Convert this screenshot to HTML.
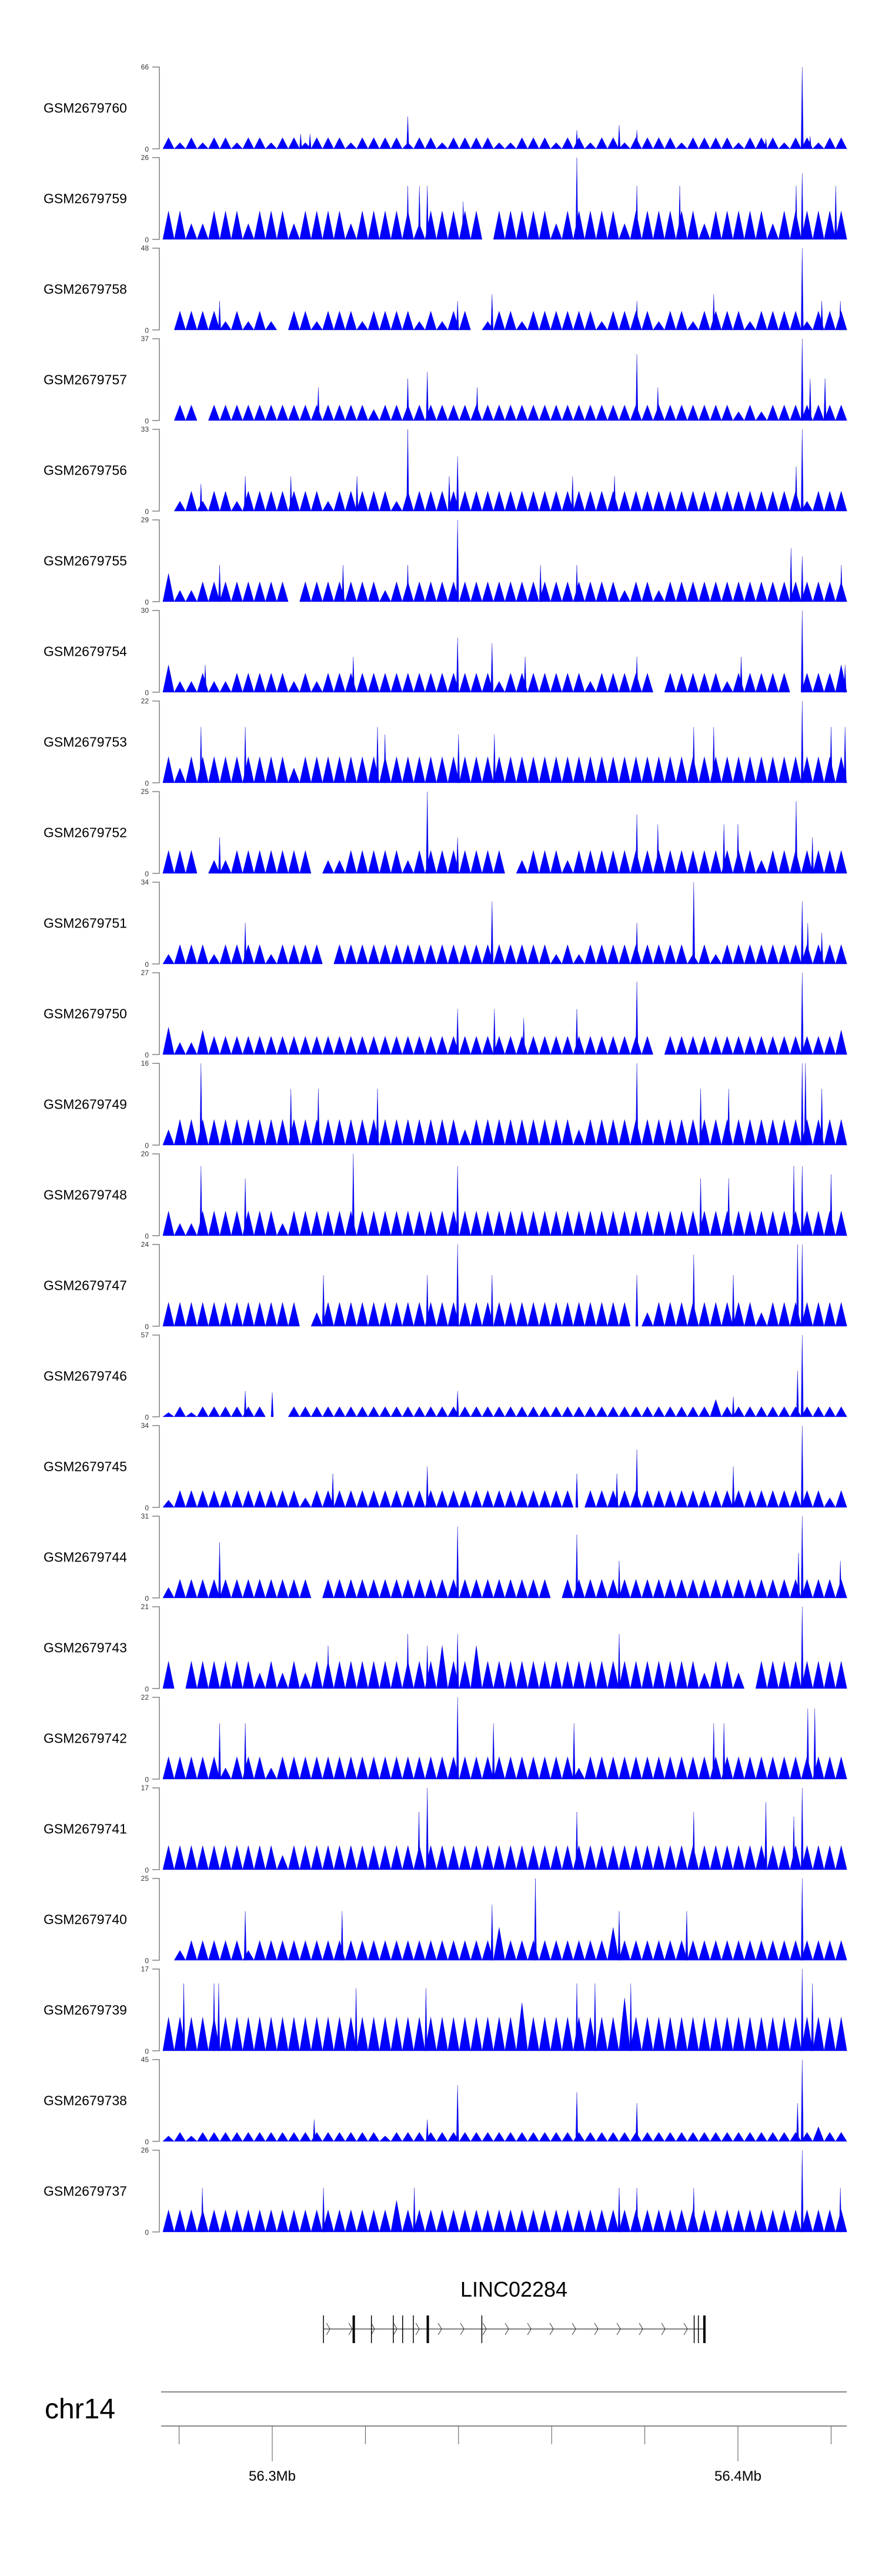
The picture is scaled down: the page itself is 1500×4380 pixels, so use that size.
<!DOCTYPE html>
<html><head><meta charset="utf-8">
<style>
html,body{margin:0;padding:0;background:#fff;}
svg{display:block;font-family:"Liberation Sans",Arial,sans-serif;}
</style></head>
<body>
<svg id="chart" width="1500" height="4380" viewBox="0 0 1500 4380" xmlns="http://www.w3.org/2000/svg">
<g id="tracks"></g>
<g id="gene">
<text x="874" y="3905" font-size="36" text-anchor="middle" fill="#000">LINC02284</text>
</g>
<g id="ideo">
<text x="76" y="4112" font-size="48" fill="#000">chr14</text>
</g>
</svg>
<script>
// ---- data ----
const sampleNames = ["GSM2679760","GSM2679759","GSM2679758","GSM2679757","GSM2679756","GSM2679755","GSM2679754","GSM2679753","GSM2679752","GSM2679751","GSM2679750","GSM2679749","GSM2679748","GSM2679747","GSM2679746","GSM2679745","GSM2679744","GSM2679743","GSM2679742","GSM2679741","GSM2679740","GSM2679739","GSM2679738","GSM2679737"];
const yMaxTicks = [66,26,48,37,33,29,30,22,25,34,27,16,20,24,57,34,31,21,22,17,25,17,45,26];
// region in kb relative to 56.3 Mb
const regionStartKb = -23.5;
const regionEndKb = 123.4;
// background coverage, per bin (reads), 60 bins per sample
const binCoverage = [
[9,5,9,5,9,9,5,9,9,5,9,9,5,9,9,9,5,9,9,9,9,5,9,9,5,9,9,9,9,5,5,9,9,9,5,9,9,5,9,9,5,9,9,9,9,5,9,9,9,9,5,9,9,9,5,9,9,5,9,9],
[9,9,5,5,9,9,9,5,9,9,9,5,9,9,9,9,5,9,9,9,9,9,5,9,9,9,9,9,0,9,9,9,9,9,5,9,9,9,9,9,5,9,9,9,9,9,9,5,9,9,9,9,9,5,9,9,9,9,9,9],
[0,11,11,11,11,5,11,5,11,5,0,11,11,5,11,11,11,5,11,11,11,11,5,11,5,11,11,0,5,11,11,5,11,11,11,11,11,11,5,11,11,11,11,5,11,11,5,11,11,11,11,5,11,11,11,11,5,11,11,11],
[0,7,7,0,7,7,7,7,7,7,7,7,7,7,7,7,7,7,5,7,7,7,7,7,7,7,7,7,7,7,7,7,7,7,7,7,7,7,7,7,7,7,7,7,7,7,7,7,7,7,4,7,4,7,7,7,7,7,7,7],
[0,4,8,4,8,8,4,8,8,8,8,8,8,8,4,8,8,8,8,8,4,8,8,8,8,8,8,8,8,8,8,8,8,8,8,8,8,8,8,8,8,8,8,8,8,8,8,8,8,8,8,8,8,8,8,8,4,8,8,8],
[10,4,4,7,7,7,7,7,7,7,7,0,7,7,7,7,7,7,7,4,7,7,7,7,7,7,7,7,7,7,7,7,7,7,7,7,7,7,7,7,4,7,7,4,7,7,7,7,7,7,7,7,7,7,7,7,7,7,7,7],
[10,4,4,7,4,4,7,7,7,7,7,4,7,4,7,7,7,7,7,7,7,7,7,7,7,7,7,7,7,4,7,7,7,7,7,7,7,4,7,7,7,7,7,0,7,7,7,7,7,4,7,7,7,7,7,0,7,7,7,10],
[7,4,7,7,7,7,7,7,7,7,7,4,7,7,7,7,7,7,7,7,7,7,7,7,7,7,7,7,7,7,7,7,7,7,7,7,7,7,7,7,7,7,7,7,7,7,7,7,7,7,7,7,7,7,7,7,7,7,7,7],
[7,7,7,0,4,4,7,7,7,7,7,7,7,0,4,4,7,7,7,7,7,4,7,7,7,7,7,7,7,7,0,4,7,7,7,4,7,7,7,7,7,7,7,7,7,7,7,7,7,7,7,7,4,7,7,7,7,7,7,7],
[4,8,8,8,4,8,8,8,8,4,8,8,8,8,0,8,8,8,8,8,8,8,8,8,8,8,8,8,8,8,8,8,8,8,4,8,4,8,8,8,8,8,8,8,8,8,4,8,4,8,8,8,8,8,8,8,8,8,8,8],
[9,4,4,8,6,6,6,6,6,6,6,6,6,6,6,6,6,6,6,6,6,6,6,6,6,6,6,6,6,6,6,6,6,6,6,6,6,6,6,6,6,6,6,0,6,6,6,6,6,6,6,6,6,6,6,6,6,6,6,8],
[3,5,5,5,5,5,5,5,5,5,5,5,5,5,5,5,5,5,5,5,5,5,5,5,5,5,3,5,5,5,5,5,5,5,5,5,3,5,5,5,5,5,5,5,5,5,5,5,5,5,5,5,5,5,5,5,5,5,5,5],
[6,3,3,6,6,6,6,6,6,6,3,6,6,6,6,6,6,6,6,6,6,6,6,6,6,6,6,6,6,6,6,6,6,6,6,6,6,6,6,6,6,6,6,6,6,6,6,6,6,6,6,6,6,6,6,6,6,6,6,6],
[7,7,7,7,7,7,7,7,7,7,7,7,0,4,7,7,7,7,7,7,7,7,7,7,7,7,7,7,7,7,7,7,7,7,7,7,7,7,7,7,7,0,4,7,7,7,7,7,7,7,7,7,4,7,7,7,7,7,7,7],
[3,7,3,7,7,7,7,7,7,0,0,7,7,7,7,7,7,7,7,7,7,7,7,7,7,7,7,7,7,7,7,7,7,7,7,7,7,7,7,7,7,7,7,7,7,7,7,7,12,7,7,7,7,7,7,7,7,7,7,7],
[3,7,7,7,7,7,7,7,7,7,7,7,4,7,7,7,7,7,7,7,7,7,7,7,7,7,7,7,7,7,7,7,7,7,7,7,0,7,7,7,7,7,7,7,7,7,7,7,7,7,7,7,7,7,7,7,7,7,4,7],
[4,7,7,7,7,7,7,7,7,7,7,7,7,0,7,7,7,7,7,7,7,7,7,7,7,7,7,7,7,7,7,7,7,7,0,7,7,7,7,7,7,7,7,7,7,7,7,7,7,7,7,7,7,7,7,7,7,7,7,7],
[7,0,7,7,7,7,7,7,4,7,4,7,4,7,7,7,7,7,7,7,7,7,7,7,11,7,7,11,7,7,7,7,7,7,7,7,7,7,7,7,7,7,7,7,7,7,7,4,7,7,4,0,7,7,7,7,7,7,7,7],
[6,6,6,6,6,3,6,6,6,3,6,6,6,6,6,6,6,6,6,6,6,6,6,6,6,6,6,6,6,6,6,6,6,6,6,6,3,6,6,6,6,6,6,6,6,6,6,6,6,6,6,6,6,6,6,6,6,6,6,6],
[5,5,5,5,5,5,5,5,5,5,3,5,5,5,5,5,5,5,5,5,5,5,5,5,5,5,5,5,5,5,5,5,5,5,5,5,5,5,5,5,5,5,5,5,5,5,5,5,5,5,5,5,5,5,5,5,5,5,5,5],
[0,3,6,6,6,6,6,3,6,6,6,6,6,6,6,6,6,6,6,6,6,6,6,6,6,6,6,6,6,10,6,6,6,6,6,6,6,6,6,10,6,6,6,6,6,6,6,6,6,6,6,6,6,6,6,6,6,6,6,6],
[7,7,7,7,7,7,7,7,7,7,7,7,7,7,7,7,7,7,7,7,7,7,7,7,7,7,7,7,7,7,7,10,7,7,7,7,7,7,7,7,11,7,7,7,7,7,7,7,7,7,7,7,7,7,7,7,7,7,7,7],
[3,5,3,5,5,5,5,5,5,5,5,5,5,5,5,5,5,5,5,3,5,5,5,5,5,5,5,5,5,5,5,5,5,5,5,5,5,5,5,5,5,5,5,5,5,5,5,5,5,5,5,5,5,5,5,5,5,8,5,5],
[7,7,7,7,7,7,7,7,7,7,7,7,7,7,7,7,7,7,7,7,10,7,7,7,7,7,7,7,7,7,7,7,7,7,7,7,7,7,7,7,7,7,7,7,7,7,7,7,7,7,7,7,7,7,7,7,7,7,7,7]
];
// sharp peaks: positions (kb from 56.3Mb) and heights (reads)
const peakPositions = [
[113.8,29.1,74.5,78.3,65.4,106,6.1,8.1,115.5],
[65.4,113.8,29.1,31.6,33.3,78.3,87.5,121,41,112.5],
[113.8,47.2,94.8,78.3,39.8,-11.3,118,122],
[113.8,78.3,33.3,29.1,9.9,82.8,115.5,118.7,44],
[29.1,113.8,39.8,112.5,-5.8,4,18.2,38,64.5,73.5,-15.3],
[39.8,111.4,113.8,122.2,15.2,-11.3,29.1,57.6,65.4],
[113.8,39.8,47.2,54.3,78.3,100.7,17.4,-14.4,123],
[113.8,-15.3,-5.8,22.6,90.5,94.8,123,120,24.2,40,47.7],
[33.3,112.5,78.3,82.8,97,100,39.8,-11.3,116],
[90.5,47.2,113.8,78.3,-5.8,115,118],
[113.8,78.3,39.8,47.7,65.4,54],
[-15.3,78.3,113.8,114.5,4,9.9,22.6,118,92,98],
[17.4,-15.3,39.8,113.8,112,120,-5.8,92,98],
[39.8,113.8,112.8,90.5,33.3,47.2,78.3,99,11],
[113.8,112.8,99,-5.8,39.8,0],
[113.8,78.3,33.3,65.4,74,99,13],
[113.8,39.8,65.4,-11.3,74.5,113,122],
[113.8,29.1,39.8,74.5,33.3,12],
[39.8,-11.3,-5.8,116.5,115,97,47.5,94.8,64.8],
[33.3,113.8,106,31.5,65.4,90.5,112],
[56.5,113.8,47.2,74.5,-5.8,15,89],
[113.8,-19,-11.5,-12.5,65.4,69.3,77,116,18,33],
[113.8,39.8,65.4,78.3,112.8,33.3,9],
[113.8,30.5,78.3,74.5,11,90.5,122,-15]
];
const peakHeights = [
[66,26,19,15,15,8,12,12,10],
[26,21,17,17,17,17,17,17,12,17],
[48,21,21,17,17,17,17,17],
[37,30,22,19,15,15,19,19,15],
[33,33,22,18,14,14,14,14,14,14,11],
[29,19,16,13,13,13,13,13,13],
[30,20,18,13,13,13,13,10,10],
[22,15,15,15,15,15,15,15,13,13,13],
[25,22,18,15,15,15,11,11,11],
[34,26,26,17,17,17,13],
[27,24,15,15,15,12],
[16,16,16,16,11,11,11,11,11,11],
[20,17,17,17,17,15,14,14,14],
[24,24,24,21,15,15,15,15,15],
[57,32,14,18,18,17],
[34,24,17,14,14,17,14],
[31,27,24,21,14,17,14],
[21,14,14,14,11,11],
[22,15,15,19,19,15,15,15,15],
[17,17,14,12,12,12,11],
[25,25,17,15,15,15,15],
[17,14,14,14,14,14,14,14,13,13],
[45,31,27,21,21,12,12],
[26,14,14,14,14,14,14,14]
];
// gene model (kb from 56.3Mb)
const exonStarts = [11.0,17.5,21.3,26.0,28.0,30.3,33.4,45.0,90.6,91.5,92.8];
const exonThick = [false,true,false,false,false,false,true,false,false,false,true];
const axisTicksKb = [-20,0,20,40,60,80,100,120];
const axisLabels = {0:"56.3Mb",100:"56.4Mb"};

// ---- layout ----
const NS="http://www.w3.org/2000/svg";
const X0=277, X1=1440;
const pxPerKb = 7.92, zeroPx = 463;
function xKb(kb){ return zeroPx + kb*pxPerKb; }
const TOP0=114, STEP=154, TH=139;
function mk(tag, attrs, parent){ const e=document.createElementNS(NS,tag); for(const k in attrs) e.setAttribute(k,attrs[k]); parent.appendChild(e); return e; }

const tracksG=document.getElementById('tracks');
sampleNames.forEach((name,i)=>{
  const top=TOP0+STEP*i, base=top+TH, ymax=yMaxTicks[i];
  const yv=v=>base - Math.min(v,ymax)/ymax*TH;
  const g=mk('g',{},tracksG);
  
  
  const lab=mk('text',{x:74,y:top+TH/2+8,'font-size':23,fill:'#000'},g);
  lab.textContent=name;
  
  
  const ax=mk('path',{d:`M259 ${top}H271V${base}H259`,fill:'none',stroke:'#808080','stroke-width':1.5},g);
  
  
  const t1=mk('text',{x:253,y:top+4,'font-size':12,'text-anchor':'end',fill:'#333'},g);
  t1.textContent=ymax;
  
  
  const t0=mk('text',{x:253,y:base+5,'font-size':12,'text-anchor':'end',fill:'#333'},g);
  t0.textContent='0';
  
  
  // background triangles
  const bins=binCoverage[i], n=bins.length;
  const spanKb=(regionEndKb-regionStartKb)/n;
  let d='';
  bins.forEach((v,j)=>{
    if(v<=0) return;
    const a=xKb(regionStartKb+j*spanKb), b=xKb(regionStartKb+(j+1)*spanKb);
    d+=`M${a.toFixed(1)} ${base}L${((a+b)/2).toFixed(1)} ${yv(v).toFixed(1)}L${b.toFixed(1)} ${base}Z`;
  });
  peakPositions[i].forEach((p,j)=>{
    const x=xKb(p);
    d+=`M${(x-2).toFixed(1)} ${base}L${x.toFixed(1)} ${yv(peakHeights[i][j]).toFixed(1)}L${(x+2).toFixed(1)} ${base}Z`;
  });
  const area=mk('path',{d:d,fill:'#0000ff',stroke:'#0000cc','stroke-width':0.4},g);
  
  
});

// gene
const geneG=document.getElementById('gene');
const gStart=xKb(exonStarts[0]), gEnd=xKb(exonStarts[exonStarts.length-1]);
const ln=mk('line',{x1:gStart,x2:gEnd,y1:3960,y2:3960,stroke:'#000','stroke-width':1},geneG);


for(let x=gStart+5;x<gEnd-5;x+=38){
  const c=mk('path',{d:`M${x} 3950L${x+6} 3960L${x} 3970`,fill:'none',stroke:'#333','stroke-width':1},geneG);
  
  
}
exonStarts.forEach((p,j)=>{
  const ex=mk('line',{x1:xKb(p),x2:xKb(p),y1:3937,y2:3984,stroke:'#000','stroke-width':exonThick[j]?4:1.5},geneG);
  
  
});

// genome axis
const ideo=document.getElementById('ideo');
const l1=mk('line',{x1:274,x2:1440,y1:4067,y2:4067,stroke:'#888','stroke-width':2},ideo);


const l2=mk('line',{x1:274,x2:1440,y1:4125,y2:4125,stroke:'#888','stroke-width':2},ideo);


axisTicksKb.forEach(k=>{
  const x=xKb(k);
  const t=mk('line',{x1:x,x2:x,y1:4125,y2:axisLabels[k]?4185:4156,stroke:'#555','stroke-width':1},ideo);
  
  
  if(axisLabels[k]){
    const tx=mk('text',{x:x,y:4218,'font-size':24,'text-anchor':'middle',fill:'#000'},ideo);
    tx.textContent=axisLabels[k];
    
    
  }
});
</script>
</body></html>
